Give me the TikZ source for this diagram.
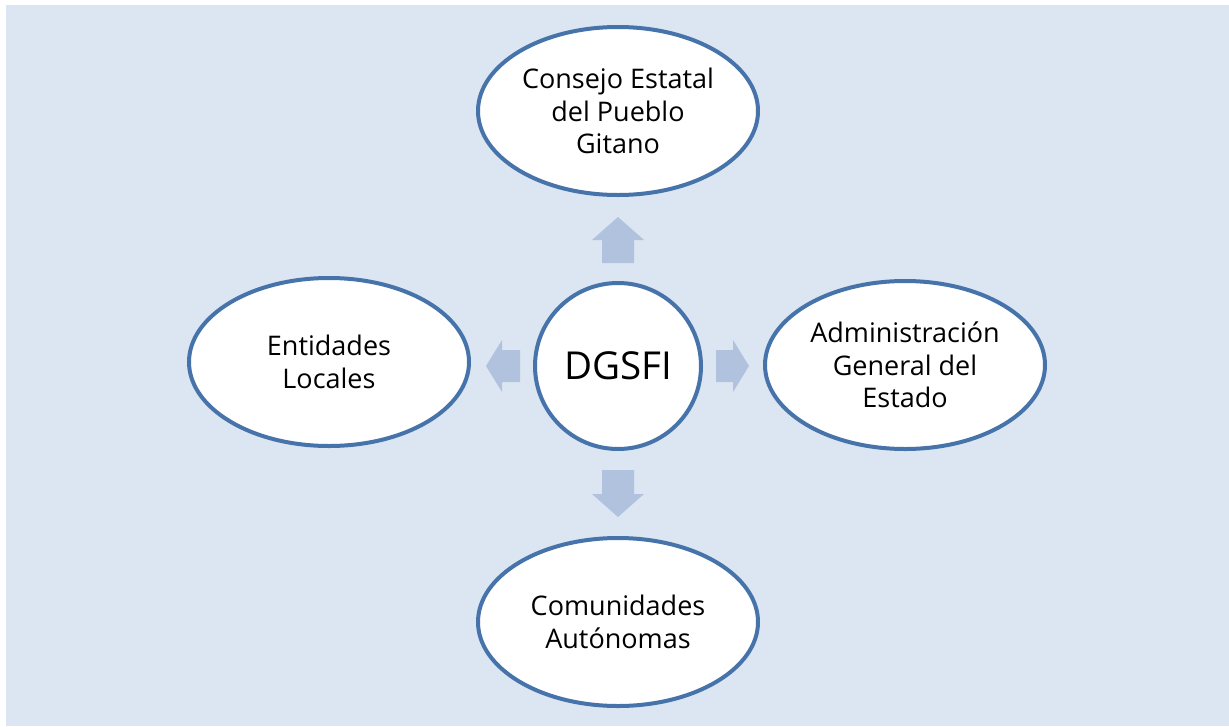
\documentclass[tikz,border=0pt]{standalone}
\usepackage{fontspec}
\setmainfont{Open Sans}
\usetikzlibrary{shapes.geometric}

\definecolor{bgblue}{RGB}{220,230,242}
\definecolor{rimblue}{RGB}{70,115,170}
\definecolor{arrowblue}{RGB}{176,194,222}

\tikzset{
    body/.style={ellipse,draw=rimblue,line width=4pt,fill=white,align=center,
        minimum width=280pt,minimum height=168pt,inner sep=0pt,
        font=\fontsize{27}{32.5}\selectfont},
    hub/.style={circle,draw=rimblue,line width=4pt,fill=white,
        minimum size=166pt,inner sep=0pt,font=\fontsize{38.5}{46}\selectfont},
    blockarrow/.style={fill=arrowblue}
}

\begin{document}
\begin{tikzpicture}[x=1pt,y=-1pt]
    \useasboundingbox (0,0) rectangle (1229,726);
    \fill[bgblue] (6,5) rectangle (1229,726);
    %central node
    \node[hub] (dg) at (618,366) {DGSFI};
    \node[body] (cepg) at (618,111) {Consejo Estatal\\del Pueblo\\Gitano};
    \node[body] (el) at (329,362) {Entidades\\Locales};
    \node[body] (age) at (905,365) {Administración\\General del\\Estado};
    \node[body] (ca) at (618,622) {Comunidades\\Autónomas};
    % block arrows out of the hub
    \foreach \ang/\off/\len/\hd in {90/103/46/23, 270/104/47/23, 180/98/34/16, 0/98/33/16} {
        \begin{scope}[shift={(dg.center)},rotate=\ang]
            \fill[blockarrow] (\off,-16) -- ({\off+\len-\hd},-16) -- ({\off+\len-\hd},-26)
                -- ({\off+\len},0) -- ({\off+\len-\hd},26) -- ({\off+\len-\hd},16)
                -- (\off,16) -- cycle;
        \end{scope}
    }
\end{tikzpicture}
\end{document}
